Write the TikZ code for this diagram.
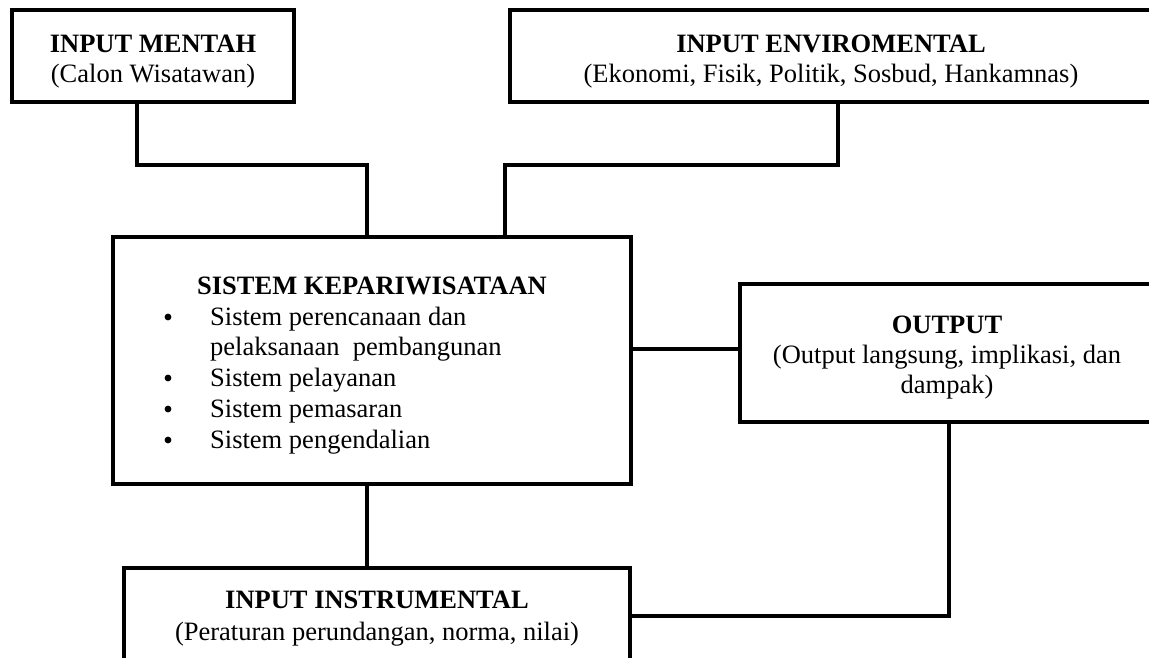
\documentclass[tikz,border=0pt]{standalone}
\usepackage{fontspec}
\setmainfont{Liberation Serif}
\begin{document}
\begin{tikzpicture}[x=1pt,y=-1pt,
  box/.style={draw, line width=3.2pt, inner sep=0pt, outer sep=0pt, anchor=north west},
  wire/.style={line width=3.2pt, line cap=rect},
  txt/.style={font=\fontsize{26.5}{30}\selectfont, inner sep=0pt, anchor=base},
  ttl/.style={txt, font=\fontsize{26.5}{30}\selectfont\bfseries},
  item/.style={txt, anchor=base west},
  dot/.style={circle, fill=black, inner sep=0pt, minimum size=6.8pt}]
\useasboundingbox (0,0) rectangle (1149,657);
\clip (0,0) rectangle (1149,657);

% boxes
\node[box, minimum width=282pt, minimum height=92pt]  (mentah) at (12,10) {};
\node[box, minimum width=642pt, minimum height=92pt]  (env)    at (510,10) {};
\node[box, minimum width=518pt, minimum height=247pt] (sys)    at (113,237) {};
\node[box, minimum width=414pt, minimum height=138pt] (out)    at (740,284) {};
\node[box, minimum width=506pt, minimum height=160pt] (instr)  at (124,568) {};

% box texts
\node[ttl] (mentahT) at (153,52) {INPUT MENTAH};
\node[txt] (mentahS) at (153,82) {(Calon Wisatawan)};

\node[ttl] (envT) at (831,52) {INPUT ENVIROMENTAL};
\node[txt] (envS) at (831,82) {(Ekonomi, Fisik, Politik, Sosbud, Hankamnas)};

\node[ttl] (sysT) at (372,294) {SISTEM KEPARIWISATAAN};
\foreach \y/\n in {317/1,378/2,409/3,440/4}
  \node[dot] (bul\n) at (168,\y) {};
\node[item] (it1)  at (210,325) {Sistem perencanaan dan};
\node[item] (it1b) at (210,355) {pelaksanaan~ pembangunan};
\node[item] (it2)  at (210,386) {Sistem pelayanan};
\node[item] (it3)  at (210,417) {Sistem pemasaran};
\node[item] (it4)  at (210,448) {Sistem pengendalian};

\node[ttl] (outT)  at (947,333) {OUTPUT};
\node[txt] (outS)  at (947,363) {(Output langsung, implikasi, dan};
\node[txt] (outS2) at (947,393) {dampak)};

\node[ttl] (instrT) at (377,608) {INPUT INSTRUMENTAL};
\node[txt] (instrS) at (377,640) {(Peraturan perundangan, norma, nilai)};

% bend points of the connectors
\coordinate (m1) at (137,165);
\coordinate (m2) at (367,165);
\coordinate (e1) at (838,165);
\coordinate (e2) at (505,165);
\coordinate (so) at (0,349);
\coordinate (si) at (367,0);
\coordinate (r1) at (949,616);

% connectors
\draw[wire] (m1 |- mentah.south) -- (m1) -- (m2) -- (m2 |- sys.north);
\draw[wire] (e1 |- env.south) -- (e1) -- (e2) -- (e2 |- sys.north);
\draw[wire] (so -| sys.east) -- (so -| out.west);
\draw[wire] (si |- sys.south) -- (si |- instr.north);
\draw[wire] (r1 -| instr.east) -- (r1) -- (r1 |- out.south);
\end{tikzpicture}
\end{document}
